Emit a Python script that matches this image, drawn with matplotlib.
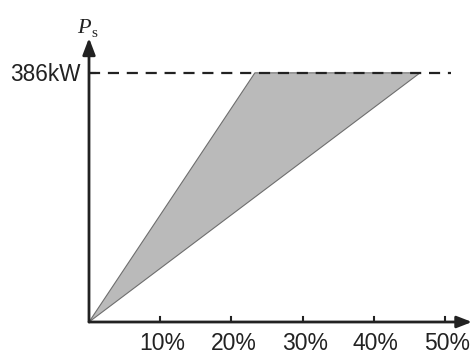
import matplotlib
matplotlib.use("Agg")
import matplotlib.pyplot as plt
from matplotlib.patches import Polygon

# data
power_max = 386            # kW
upper_x = 23.3             # % at which the steep edge reaches 386 kW
lower_x = 46.5             # % at which the shallow edge reaches 386 kW
ticks = [10, 20, 30, 40, 50]
tick_labels = ["10%", "20%", "30%", "40%", "50%"]
xmax = 53.8
ymax = 440

W, H = 473, 353
fig = plt.figure(figsize=(W / 100, H / 100), dpi=100)
x0, y0 = 89, 322
x1, y1 = 472, 38
ax = fig.add_axes([x0 / W, (H - y0) / H, (x1 - x0) / W, (y0 - y1) / H])
ax.set_xlim(0, xmax)
ax.set_ylim(0, ymax)
ax.axis("off")
px = ymax / (y0 - y1)

poly = Polygon([(0, 0), (upper_x, power_max), (lower_x, power_max)],
               closed=True, facecolor="#bababa", edgecolor="#6e6e6e", lw=0.8, zorder=2)
ax.add_patch(poly)

ax.plot([0, 50.8], [power_max, power_max], color="#222222", lw=1.6,
        dashes=(5, 3.5), zorder=3)

# axes with arrows
ax.annotate("", xy=(xmax, 0), xytext=(0, 0),
            arrowprops=dict(arrowstyle="-|>,head_length=0.9,head_width=0.35",
                            color="#222222", lw=2, shrinkA=0, shrinkB=0), zorder=4)
ax.annotate("", xy=(0, ymax), xytext=(0, 0),
            arrowprops=dict(arrowstyle="-|>,head_length=1.0,head_width=0.38",
                            color="#222222", lw=2, shrinkA=0, shrinkB=0), zorder=4)

# ticks
for t, lab in zip(ticks, tick_labels):
    ax.plot([t, t], [0, 5 * px], color="#222222", lw=1.5, zorder=4)
    ax.text(t + 0.3, -27.5 * px, lab, ha="center", va="baseline",
            fontsize=16.5, family="Liberation Sans", color="#222222")
ax.plot([0, 0.8], [power_max, power_max], color="#222222", lw=1.5, zorder=4)

ax.text(-1.2, power_max - 3, "386kW", ha="right", va="center",
        fontsize=16.3, family="Liberation Sans", color="#222222")

fig.text(77 / W, 1 - 33 / H, "P", fontsize=16, family="Liberation Serif",
         style="italic", color="#222222", ha="left", va="baseline")
fig.text(91 / W, 1 - 37 / H, "s", fontsize=11, family="Liberation Serif",
         color="#222222", ha="left", va="baseline")

fig.savefig("out.png", dpi=100)
